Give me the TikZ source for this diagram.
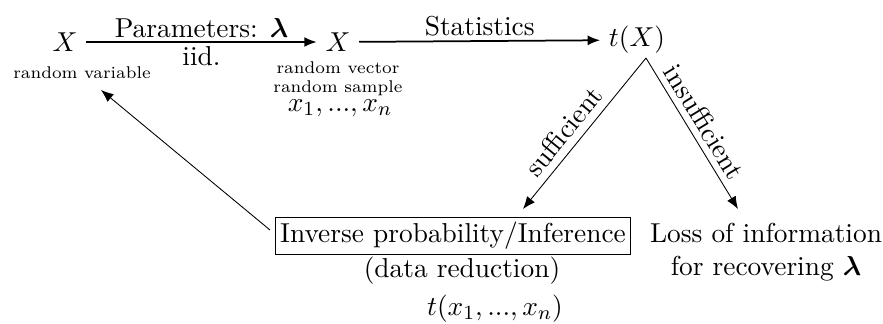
\documentclass[tikz,border=0pt]{standalone}
\usepackage{bm}
\usetikzlibrary{arrows.meta}
\begin{document}
\begin{tikzpicture}[x=0.4pt,y=-0.4pt,
  font=\fontsize{10.95}{13}\selectfont,
  lbl/.style={inner sep=1.5pt},
  small/.style={font=\fontsize{6.8}{8}\selectfont,inner sep=0pt},
  toparrow/.style={-{Latex[length=5pt,width=4pt]},line width=0.7pt},
  thinarrow/.style={-{Latex[length=5pt,width=4pt]},line width=0.35pt},
  framed/.style={draw,line width=0.4pt,inner sep=2pt}]
\useasboundingbox (0,0) rectangle (883,323);
\node (X1) at (65,42) {$X$};
\node[small] (rv) at (82,73) {random variable};
\node (X2) at (338,42) {$X$};
\node[small] (rvec) at (338,68) {random vector};
\node[small] (rsam) at (338,88) {random sample};
\node[inner sep=0pt] (xs) at (340,108) {$x_1,...,x_n$};
\node (tX) at (637,40) {$t(X)$};
\draw[toparrow] (X1) -- node[above,lbl] {Parameters: $\bm{\lambda}$} node[below,lbl] {iid.} (X2);
\draw[toparrow] (X2) -- node[above,lbl] {Statistics} (tX);
\node[framed] (box) at (453,236) {Inverse probability/Inference};
\node[inner sep=0pt] (dr) at (462,271) {(data reduction)};
\node[inner sep=0pt] (tx) at (495,309) {$t(x_1,...,x_n)$};
\node[align=center,inner sep=0pt] (loss) at (766,252) {Loss of information\\for recovering $\bm{\lambda}$};
\coordinate (apex) at (646,58);
\coordinate (sufftip) at (523,209);
\coordinate (insufftip) at (738,209);
\coordinate (backstart) at (270,230);
\coordinate (backtip) at (101,90);
\draw[thinarrow] (apex) -- node[pos=0.56,sloped,above,inner sep=3pt] {sufficient} (sufftip);
\draw[thinarrow] (apex) -- node[pos=0.48,sloped,above,inner sep=2.5pt] {insufficient} (insufftip);
\draw[thinarrow] (backstart) -- (backtip);
\end{tikzpicture}
\end{document}
